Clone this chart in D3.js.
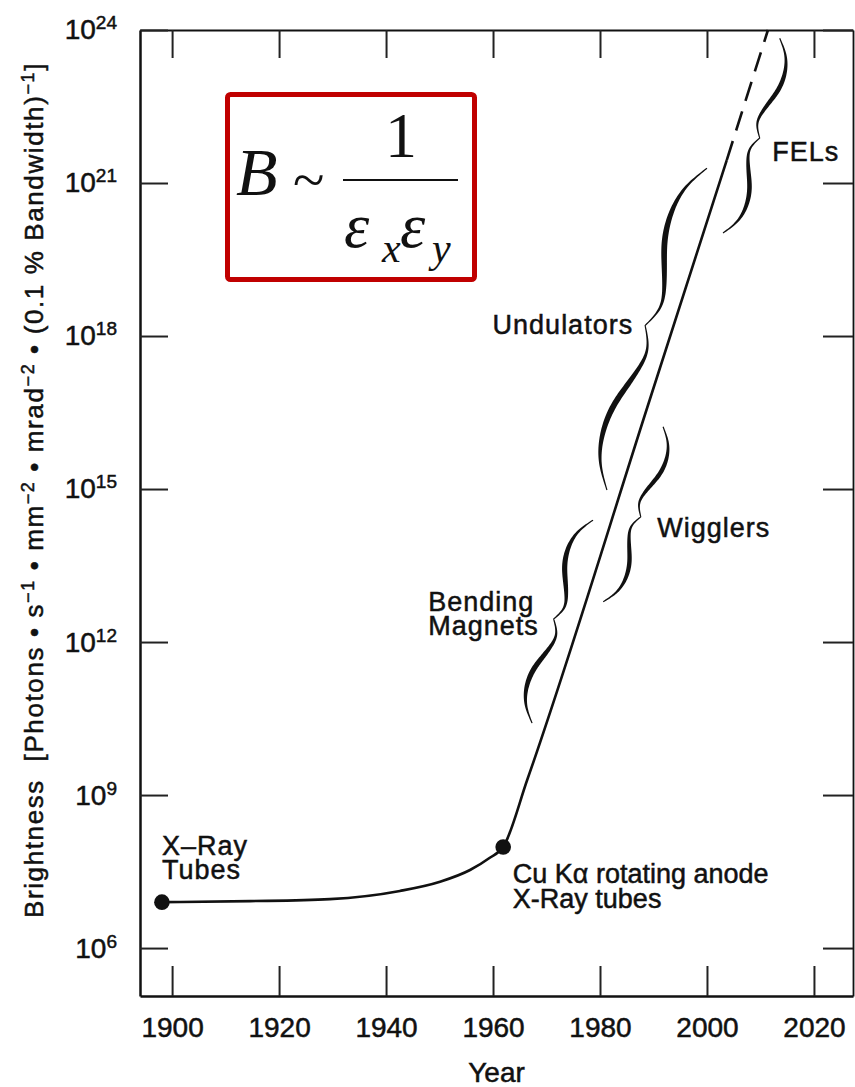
<!DOCTYPE html>
<html>
<head>
<meta charset="utf-8">
<script src="https://cdn.jsdelivr.net/npm/d3@7"></script>
<style>
  body { margin: 0; background: #fff; }
  svg { display: block; background: #fff; }
  text { font-family: "Liberation Sans", Arial, Helvetica, sans-serif; fill: #111; }
  .heavy { stroke: #111; stroke-width: 0.5px; }
</style>
</head>
<body>
<div id="chart"></div>
<script>
/* values */
const yearTicks = [1900, 1920, 1940, 1960, 1980, 2000, 2020];
const decadeTicks = [6, 9, 12, 15, 18, 21, 24];   // log10 of brightness

// main growth curve (solid)
const curveYears = [1898.1, 1914.6, 1929.5, 1942.6, 1950.1, 1955.7, 1959.4, 1961.9, 1966.4, 1989.3, 2003.7];
const curveLogB  = [6.90, 6.92, 6.96, 7.12, 7.30, 7.53, 7.77, 7.98, 9.30, 16.75, 21.45];

// extrapolated part (dashed)
const dashYears = [2003.7, 2011.4];
const dashLogB  = [21.45, 24.0];

// sources marked with a dot
const dotYears = [1898.1, 1961.9];
const dotLogB  = [6.90, 7.98];

// braces, tip to tip
const braceNames = ["Bending Magnets", "Wigglers", "Undulators", "FELs"];
const braceYear0 = [1967.3, 1980.6, 1981.3, 2003.0];
const braceLogB0 = [10.41, 12.79, 14.98, 20.02];
const braceYear1 = [1978.7, 1991.8, 2000.0, 2013.6];
const braceLogB1 = [14.39, 16.22, 21.29, 23.84];
const braceSide  = ["left", "right", "left", "right"];

// annotation anchors
const labelLines = [["X\u2013Ray", "Tubes"], ["Cu K\u03b1 rotating anode", "X-Ray tubes"], ["Bending", "Magnets"], ["Wigglers"], ["Undulators"], ["FELs"]];
const labelYears = [1898.1, 1963.7, 1947.9, 1990.7, 1986.2, 2012.2];
const labelLogB  = [7.83, 7.28, 12.61, 14.06, 18.04, 21.43];

/* svg size */
const width = 855;
const height = 1087;
const margin = {top: 30, right: 2, bottom: 91, left: 140};

const svg = d3.select("#chart").append("svg")
    .attr("width", width)
    .attr("height", height);

/* scales */
const x = d3.scaleLinear()
    .domain([1894.0, 2027.3])
    .range([margin.left, width - margin.right]);

const y = d3.scaleLog()
    .domain([Math.pow(10, 5.06), Math.pow(10, 24)])
    .range([height - margin.bottom, margin.top]);

const ink = "#111";

/* axes: ticks point inwards on all four sides */
const bottomG = svg.append("g")
    .attr("transform", "translate(0," + (height - margin.bottom) + ")")
    .call(d3.axisBottom(x).tickValues(yearTicks).tickFormat(d3.format("d"))
        .tickSizeInner(-30).tickSizeOuter(0).tickPadding(21));

const topG = svg.append("g")
    .attr("transform", "translate(0," + margin.top + ")")
    .call(d3.axisTop(x).tickValues(yearTicks).tickFormat("")
        .tickSizeInner(-28).tickSizeOuter(0));

const leftG = svg.append("g")
    .attr("transform", "translate(" + margin.left + ",0)")
    .call(d3.axisLeft(y).tickValues(decadeTicks.map(e => Math.pow(10, e)))
        .tickSizeInner(-28).tickSizeOuter(0).tickPadding(23));

const rightG = svg.append("g")
    .attr("transform", "translate(" + (width - margin.right) + ",0)")
    .call(d3.axisRight(y).tickValues(decadeTicks.map(e => Math.pow(10, e))).tickFormat("")
        .tickSizeInner(-30).tickSizeOuter(0));

[bottomG, topG, leftG, rightG].forEach(g => {
    g.attr("font-family", null).attr("font-size", null);
    g.select(".domain").attr("stroke", ink).attr("stroke-width", 2.5);
    g.selectAll(".tick line").attr("stroke", "#222").attr("stroke-width", 2);
});
rightG.select(".domain").attr("stroke-width", 1.8);
topG.select(".domain").attr("stroke-width", 2.2);

bottomG.selectAll(".tick text")
    .attr("fill", ink)
    .attr("class", "heavy")
    .style("font-size", "28px");

leftG.selectAll(".tick text")
    .attr("fill", ink)
    .attr("class", "heavy")
    .style("font-size", "28px")
    .text("10")
    .append("tspan")
    .attr("dy", -10)
    .style("font-size", "19px")
    .text(d => Math.round(Math.log10(d)));

/* axis titles */
svg.append("text")
    .attr("class", "heavy")
    .attr("x", (margin.left + width - margin.right) / 2)
    .attr("y", 1082)
    .attr("text-anchor", "middle")
    .style("font-size", "28px")
    .text("Year");

const titleParts = [
    ["Brightness  [Photons \u2022 s", false], ["\u22121", true],
    [" \u2022 mm", false], ["\u22122", true],
    [" \u2022 mrad", false], ["\u22122", true],
    [" \u2022 (0.1 % Bandwidth)", false], ["\u22121", true],
    ["]", false]
];
const yTitle = svg.append("text")
    .attr("class", "heavy")
    .attr("transform", "translate(43,918) rotate(-90)")
    .style("font-size", "26px")
    .style("white-space", "pre");
let shifted = false;
titleParts.forEach(p => {
    const t = yTitle.append("tspan").text(p[0]);
    if (p[1]) { t.attr("dy", -9).style("font-size", "18px"); shifted = true; }
    else if (shifted) { t.attr("dy", 9); shifted = false; }
});
// stretch the title to the length it has in the figure
const titleLen = yTitle.node().getComputedTextLength();
const nChars = titleParts.map(p => p[0]).join("").length;
yTitle.style("letter-spacing", ((856 - titleLen) / nChars) + "px");

/* main curve */
const line = d3.line()
    .x(d => x(d[0]))
    .y(d => y(Math.pow(10, d[1])))
    .curve(d3.curveMonotoneX);

svg.append("path")
    .datum(d3.zip(curveYears, curveLogB))
    .attr("d", line)
    .attr("fill", "none")
    .attr("stroke", ink)
    .attr("stroke-width", 2.6);

svg.append("path")
    .datum(d3.zip(dashYears, dashLogB))
    .attr("d", line)
    .attr("fill", "none")
    .attr("stroke", ink)
    .attr("stroke-width", 2.6)
    .attr("stroke-dasharray", "20,11");

svg.selectAll(".dot")
    .data(d3.zip(dotYears, dotLogB))
    .enter().append("circle")
    .attr("class", "dot")
    .attr("cx", d => x(d[0]))
    .attr("cy", d => y(Math.pow(10, d[1])))
    .attr("r", 7.8)
    .attr("fill", ink);

/* curly braces drawn as tapered ribbons */
const braceProfile = d3.interpolateBasis([0, 0.72, 1.02, 1.08, 0.95, 0.6, 0.25, 0.05, 0.62]);
const braceWidth = [15, 13, 20, 14];
const braceInk = [5.2, 4.4, 5.8, 4.6];

function braceOutline(p0, p1, side, w, tMax) {
    const dx = p1[0] - p0[0], dy = p1[1] - p0[1];
    const len = Math.hypot(dx, dy);
    const ux = dx / len, uy = dy / len;
    const sgn = side === "left" ? 1 : -1;
    const nx = uy * sgn, ny = -ux * sgn;
    const n = 160;
    const pts = d3.range(n + 1).map(i => {
        const u = i / n;
        const s = u <= 0.5 ? u * 2 : (1 - u) * 2;
        const v = braceProfile(s) * w;
        return {
            x: p0[0] + ux * len * u + nx * v,
            y: p0[1] + uy * len * u + ny * v,
            t: 1.2 + (tMax - 1.2) * Math.pow(Math.sin(Math.PI * s), 1.4)
        };
    });
    const sideA = [], sideB = [];
    pts.forEach((p, i) => {
        const a = pts[Math.max(i - 1, 0)], b = pts[Math.min(i + 1, n)];
        let tx = b.x - a.x, ty = b.y - a.y;
        const tl = Math.hypot(tx, ty) || 1;
        tx /= tl; ty /= tl;
        sideA.push([p.x - ty * p.t / 2, p.y + tx * p.t / 2]);
        sideB.push([p.x + ty * p.t / 2, p.y - tx * p.t / 2]);
    });
    return sideA.concat(sideB.reverse());
}

svg.selectAll(".brace")
    .data(braceNames)
    .enter().append("path")
    .attr("class", "brace")
    .attr("d", (d, i) => d3.line().curve(d3.curveLinearClosed)(braceOutline(
        [x(braceYear0[i]), y(Math.pow(10, braceLogB0[i]))],
        [x(braceYear1[i]), y(Math.pow(10, braceLogB1[i]))],
        braceSide[i], braceWidth[i], braceInk[i])))
    .attr("fill", ink);

/* annotations */
const labelAnchor = ["start", "start", "start", "start", "end", "start"];
const labelSpacing = [1, 0, 1, 1, 1, 1];
const labelLead = [24, 25, 24, 24, 24, 24];

labelLines.forEach((lines, i) => {
    const t = svg.append("text")
        .attr("class", "heavy")
        .attr("x", x(labelYears[i]))
        .attr("y", y(Math.pow(10, labelLogB[i])))
        .attr("text-anchor", labelAnchor[i])
        .style("font-size", "27px")
        .style("letter-spacing", labelSpacing[i] + "px");
    lines.forEach((s, k) => {
        t.append("tspan")
            .attr("x", x(labelYears[i]))
            .attr("dy", k === 0 ? 0 : labelLead[i])
            .text(s);
    });
});

/* the red formula box */
const box = svg.append("g");
box.append("rect")
    .attr("x", 227.5).attr("y", 94.5)
    .attr("width", 247).attr("height", 185)
    .attr("rx", 3)
    .attr("fill", "#fff")
    .attr("stroke", "#c00000")
    .attr("stroke-width", 5);

const serif = "'Liberation Serif', 'Times New Roman', serif";
box.append("text").attr("x", 236).attr("y", 195)
    .style("font-family", serif).style("font-style", "italic").style("font-size", "68px")
    .text("B");
box.append("text").attr("x", 293).attr("y", 199)
    .style("font-family", serif).style("font-size", "58px")
    .text("~");
box.append("text").attr("x", 401).attr("y", 157).attr("text-anchor", "middle")
    .style("font-family", serif).style("font-size", "64px")
    .text("1");
box.append("line")
    .attr("x1", 343).attr("x2", 458).attr("y1", 180).attr("y2", 180)
    .attr("stroke", ink).attr("stroke-width", 2);
[["\u03b5", 344, 247, 64], ["x", 382, 262, 42], ["\u03b5", 400, 247, 64], ["y", 432, 262, 42]].forEach(g => {
    box.append("text").attr("x", g[1]).attr("y", g[2])
        .style("font-family", serif).style("font-style", "italic").style("font-size", g[3] + "px")
        .text(g[0]);
});
</script>
</body>
</html>
